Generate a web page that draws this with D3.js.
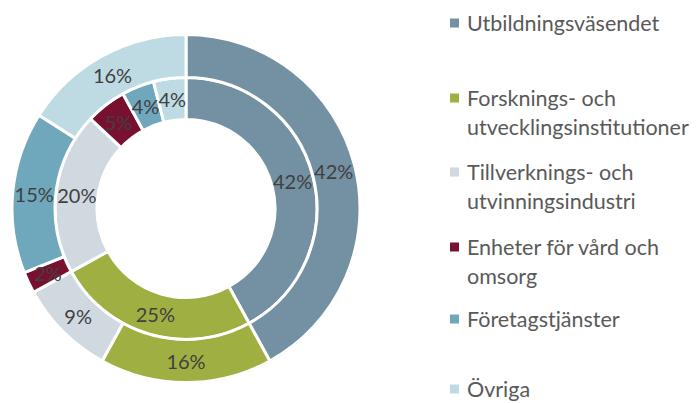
<!DOCTYPE html>
<html><head><meta charset="utf-8">
<script src="https://cdn.jsdelivr.net/npm/d3@7"></script>
<style>body{margin:0;background:#fff}svg{display:block}</style>
</head><body>
<svg id="c" width="698" height="403"></svg>
<script>
const categories = ["Utbildningsväsendet","Forsknings- och utvecklingsinstitutioner","Tillverknings- och utvinningsindustri","Enheter för vård och omsorg","Företagstjänster","Övriga"];
const legendLines = [["Utbildningsväsendet"],["Forsknings- och","utvecklingsinstitutioner"],["Tillverknings- och","utvinningsindustri"],["Enheter för vård och","omsorg"],["Företagstjänster"],["Övriga"]];
const innerValues = [42,25,20,5,4,4];
const outerValues = [42,16,9,2,15,16];
const colors = ["#7391A3","#A0AF42","#D0D8E0","#7A1030","#6FA8BC","#BEDBE3"];

const svg = d3.select("#c");
const cx = 186, cy = 208.5;
const g = svg.append("g").attr("transform",`translate(${cx},${cy})`);
const pie = d3.pie().sort(null).value(d=>d);
const rings = [
  {vals: innerValues, r0: 89, r1: 131},
  {vals: outerValues, r0: 131, r1: 174}
];
const font = "Lato, 'Open Sans', sans-serif";
rings.forEach(ring=>{
  const arc = d3.arc().innerRadius(ring.r0).outerRadius(ring.r1);
  const arcs = pie(ring.vals);
  g.selectAll(null).data(arcs).enter().append("path")
    .attr("d",arc).attr("fill",(d,i)=>colors[i])
    .attr("stroke","#fff").attr("stroke-width",3).attr("stroke-linejoin","miter");
  g.selectAll(null).data(arcs).enter().append("text")
    .attr("transform",d=>`translate(${arc.centroid(d)})`)
    .attr("text-anchor","middle").attr("dominant-baseline","central")
    .attr("font-family",font).attr("font-size",20).attr("fill","#404040")
    .text(d=>d.data+"%");
});

const legendY = [23,98,172,247,319,389];
const lg = svg.append("g");
categories.forEach((c,i)=>{
  lg.append("rect").attr("x",450).attr("y",legendY[i]-4.5).attr("width",9).attr("height",9).attr("fill",colors[i]);
  legendLines[i].forEach((l,j)=>{
    lg.append("text").attr("x",467).attr("y",legendY[i]+j*29)
      .attr("dominant-baseline","central")
      .attr("font-family",font).attr("font-size",21.5).attr("fill","#595959").text(l);
  });
});
</script>
</body></html>
